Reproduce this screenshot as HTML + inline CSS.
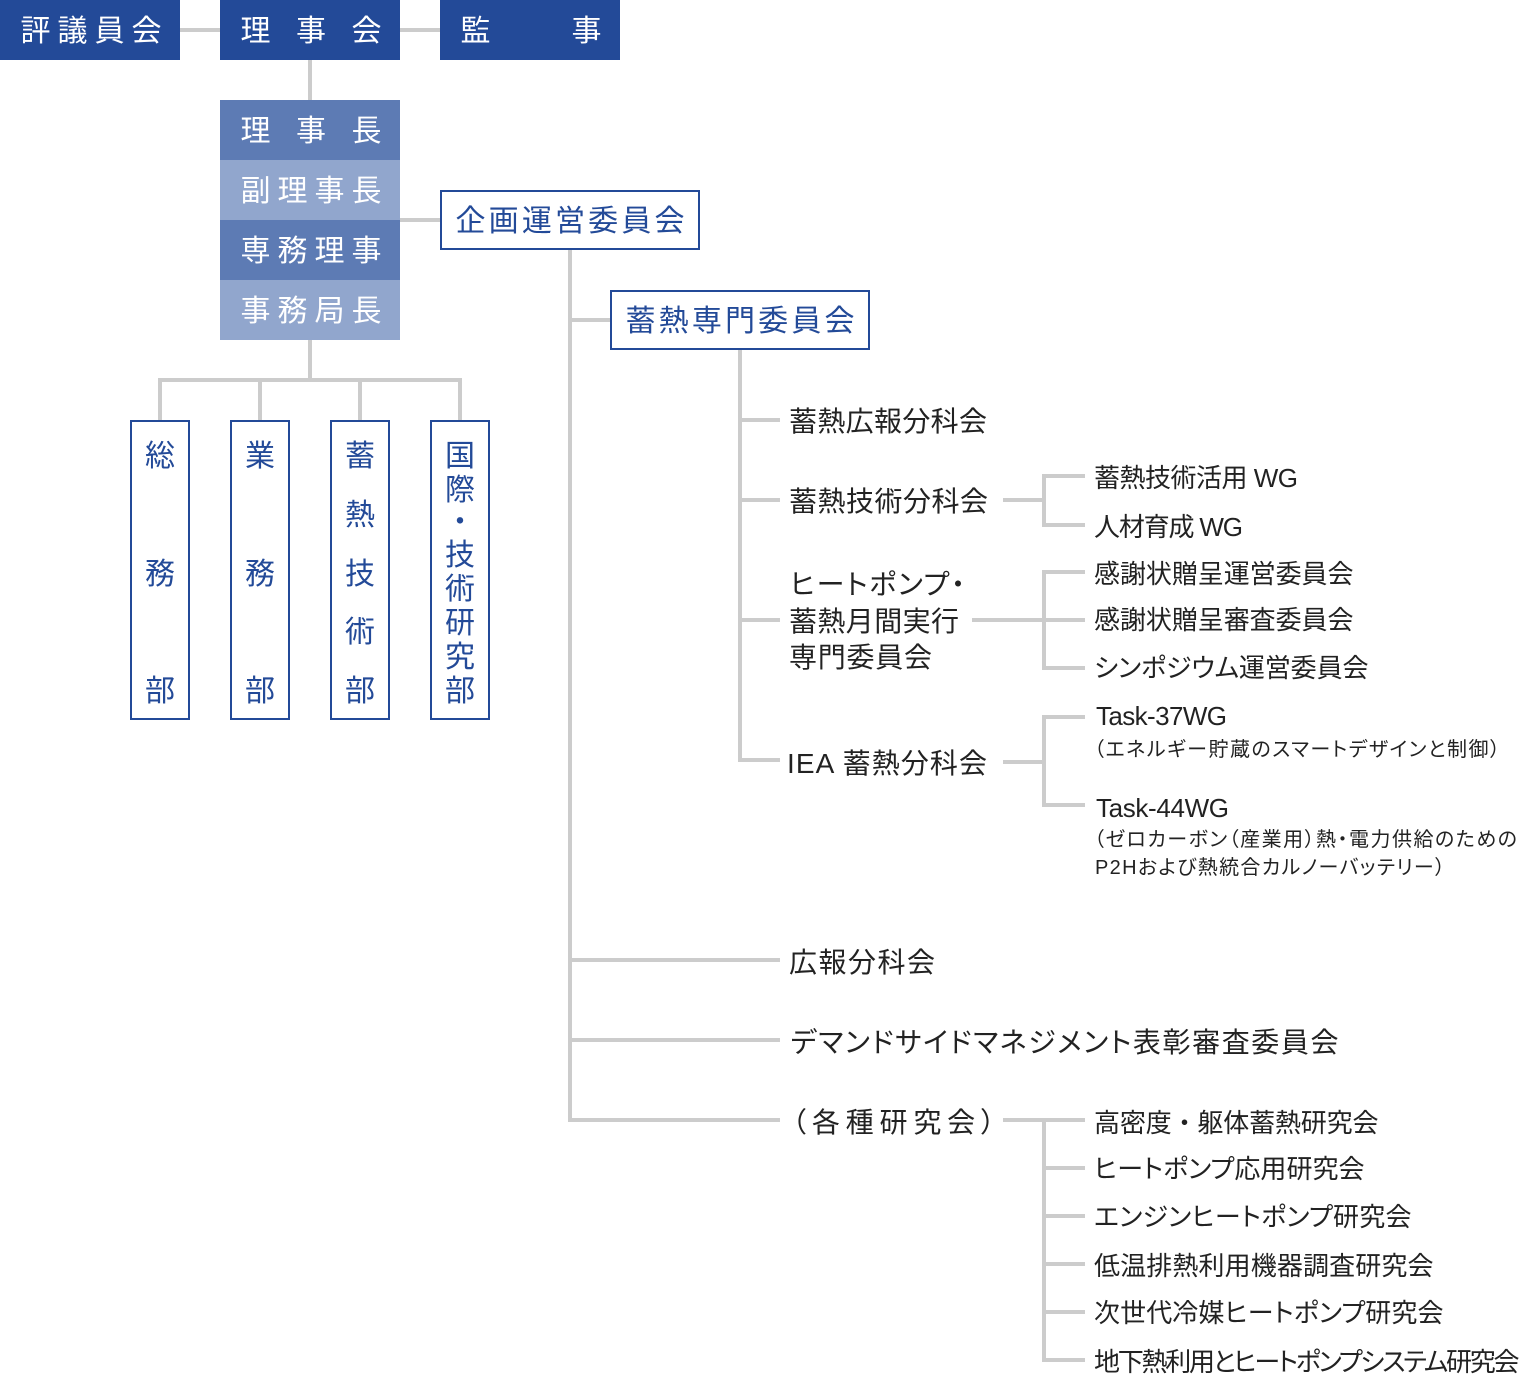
<!DOCTYPE html>
<html lang="ja">
<head>
<meta charset="utf-8">
<style>
  html,body{margin:0;padding:0;background:#fff;}
  svg{display:block;}
  text{font-family:"Liberation Sans","Noto Sans CJK JP",sans-serif;}
  .w{fill:#fff;font-size:30px;}
  .b{fill:#234a98;font-size:30px;}
  .m{fill:#222;font-size:28px;font-feature-settings:"palt";}
  .r{fill:#222;font-size:26px;font-feature-settings:"palt";}
  .s{fill:#222;font-size:20px;font-feature-settings:"palt";}
  .np{font-feature-settings:normal;}
</style>
</head>
<body>
<svg width="1528" height="1400" viewBox="0 0 1528 1400" xmlns="http://www.w3.org/2000/svg">
  <rect x="0" y="0" width="1528" height="1400" fill="#fff"/>

  <!-- connector lines -->
  <g fill="#cccccc">
    <rect x="180" y="28" width="40" height="4"/>
    <rect x="400" y="28" width="40" height="4"/>
    <rect x="308" y="60" width="4" height="40"/>
    <rect x="400" y="218" width="40" height="4"/>
    <rect x="308" y="340" width="4" height="40"/>
    <rect x="158" y="378" width="304" height="4"/>
    <rect x="158" y="378" width="4" height="42"/>
    <rect x="258" y="378" width="4" height="42"/>
    <rect x="358" y="378" width="4" height="42"/>
    <rect x="458" y="378" width="4" height="42"/>

    <rect x="568" y="250" width="4" height="872"/>
    <rect x="570" y="318" width="40" height="4"/>
    <rect x="570" y="958" width="210" height="4"/>
    <rect x="570" y="1038" width="210" height="4"/>
    <rect x="568" y="1118" width="212" height="4"/>

    <rect x="738" y="350" width="4" height="412"/>
    <rect x="740" y="418" width="40" height="4"/>
    <rect x="740" y="498" width="40" height="4"/>
    <rect x="740" y="618" width="40" height="4"/>
    <rect x="738" y="758" width="42" height="4"/>

    <!-- 蓄熱技術分科会 -->
    <rect x="1003" y="498" width="41" height="4"/>
    <rect x="1042" y="474" width="4" height="53"/>
    <rect x="1042" y="474" width="43" height="4"/>
    <rect x="1042" y="523" width="43" height="4"/>

    <!-- HP -->
    <rect x="972" y="618" width="72" height="4"/>
    <rect x="1042" y="570" width="4" height="100"/>
    <rect x="1042" y="570" width="43" height="4"/>
    <rect x="1042" y="618" width="43" height="4"/>
    <rect x="1042" y="666" width="43" height="4"/>

    <!-- IEA -->
    <rect x="1003" y="760" width="41" height="4"/>
    <rect x="1042" y="715" width="4" height="92"/>
    <rect x="1042" y="715" width="43" height="4"/>
    <rect x="1042" y="803" width="43" height="4"/>

    <!-- 各種研究会 -->
    <rect x="1003" y="1118" width="82" height="4"/>
    <rect x="1042" y="1118" width="4" height="244"/>
    <rect x="1042" y="1166" width="43" height="4"/>
    <rect x="1042" y="1214" width="43" height="4"/>
    <rect x="1042" y="1262" width="43" height="4"/>
    <rect x="1042" y="1310" width="43" height="4"/>
    <rect x="1042" y="1358" width="43" height="4"/>
  </g>

  <!-- top boxes -->
  <rect x="0" y="0" width="180" height="60" fill="#234a98"/>
  <rect x="220" y="0" width="180" height="60" fill="#234a98"/>
  <rect x="440" y="0" width="180" height="60" fill="#234a98"/>
  <text class="w" x="20.5 57.5 94.5 131.5" y="41">評議員会</text>
  <text class="w" x="240.5 296 351.5" y="41">理事会</text>
  <text class="w" x="460.5 571.5" y="41">監事</text>

  <!-- officer stack -->
  <rect x="220" y="100" width="180" height="60" fill="#5d7bb4"/>
  <rect x="220" y="160" width="180" height="60" fill="#91a6cd"/>
  <rect x="220" y="220" width="180" height="60" fill="#5d7bb4"/>
  <rect x="220" y="280" width="180" height="60" fill="#91a6cd"/>
  <text class="w" x="240.5 296 351.5" y="141">理事長</text>
  <text class="w" x="240.5 277.5 314.5 351.5" y="201">副理事長</text>
  <text class="w" x="240.5 277.5 314.5 351.5" y="261">専務理事</text>
  <text class="w" x="240.5 277.5 314.5 351.5" y="321">事務局長</text>

  <!-- committee boxes -->
  <rect x="441" y="191" width="258" height="58" fill="#fff" stroke="#234a98" stroke-width="2"/>
  <text class="b" x="455.5" y="231" textLength="229" lengthAdjust="spacing">企画運営委員会</text>
  <rect x="611" y="291" width="258" height="58" fill="#fff" stroke="#234a98" stroke-width="2"/>
  <text class="b" x="625.5" y="331" textLength="229" lengthAdjust="spacing">蓄熱専門委員会</text>

  <!-- department boxes -->
  <g fill="#fff" stroke="#234a98" stroke-width="2">
    <rect x="131" y="421" width="58" height="298"/>
    <rect x="231" y="421" width="58" height="298"/>
    <rect x="331" y="421" width="58" height="298"/>
    <rect x="431" y="421" width="58" height="298"/>
  </g>
  <g class="b" text-anchor="middle">
    <text class="b" x="160" y="466">総</text>
    <text class="b" x="160" y="584">務</text>
    <text class="b" x="160" y="701">部</text>

    <text class="b" x="260" y="466">業</text>
    <text class="b" x="260" y="584">務</text>
    <text class="b" x="260" y="701">部</text>

    <text class="b" x="360" y="466">蓄</text>
    <text class="b" x="360" y="525">熱</text>
    <text class="b" x="360" y="584">技</text>
    <text class="b" x="360" y="642">術</text>
    <text class="b" x="360" y="701">部</text>

    <text class="b" x="460" y="466">国</text>
    <text class="b" x="460" y="500">際</text>
    <text class="b" x="460" y="532">・</text>
    <text class="b" x="460" y="565">技</text>
    <text class="b" x="460" y="599">術</text>
    <text class="b" x="460" y="633">研</text>
    <text class="b" x="460" y="667">究</text>
    <text class="b" x="460" y="701">部</text>
  </g>

  <!-- main labels -->
  <text class="m" x="789" y="431" textLength="198" lengthAdjust="spacing">蓄熱広報分科会</text>
  <text class="m" x="789" y="511" textLength="199" lengthAdjust="spacing">蓄熱技術分科会</text>
  <text class="m" x="790" y="594" textLength="175" lengthAdjust="spacing">ヒートポンプ・</text>
  <text class="m" x="789" y="631" textLength="170" lengthAdjust="spacing">蓄熱月間実行</text>
  <text class="m" x="789" y="667" textLength="143" lengthAdjust="spacing">専門委員会</text>
  <text class="m" x="787" y="773" textLength="200" lengthAdjust="spacing">IEA 蓄熱分科会</text>
  <text class="m" x="789" y="972" textLength="146" lengthAdjust="spacing">広報分科会</text>
  <text class="m" x="790.5" y="1052" textLength="548" lengthAdjust="spacing">デマンドサイドマネジメント表彰審査委員会</text>
  <text class="m" x="792" y="1132" textLength="203" lengthAdjust="spacing">（各種研究会）</text>

  <!-- right labels -->
  <text class="r" x="1094" y="487" textLength="204" lengthAdjust="spacing">蓄熱技術活用 WG</text>
  <text class="r" x="1094" y="536" textLength="149" lengthAdjust="spacing">人材育成 WG</text>
  <text class="r" x="1094" y="583" textLength="259.5" lengthAdjust="spacing">感謝状贈呈運営委員会</text>
  <text class="r" x="1094" y="629" textLength="259.5" lengthAdjust="spacing">感謝状贈呈審査委員会</text>
  <text class="r" x="1094" y="677" textLength="274.5" lengthAdjust="spacing">シンポジウム運営委員会</text>

  <text class="r" x="1096" y="725" textLength="131" lengthAdjust="spacing">Task-37WG</text>
  <text class="s" x="1094" y="756" textLength="406" lengthAdjust="spacing">（エネルギー貯蔵のスマートデザインと制御）</text>
  <text class="r" x="1096" y="817" textLength="133" lengthAdjust="spacing">Task-44WG</text>
  <text class="s" x="1094" y="846" textLength="423" lengthAdjust="spacing">（ゼロカーボン（産業用）熱・電力供給のための</text>
  <text class="s" x="1095" y="874" textLength="350" lengthAdjust="spacing">P2Hおよび熱統合カルノーバッテリー）</text>

  <text class="r np" x="1094" y="1132" textLength="284.5" lengthAdjust="spacing">高密度・躯体蓄熱研究会</text>
  <text class="r" x="1094" y="1178" textLength="270.5" lengthAdjust="spacing">ヒートポンプ応用研究会</text>
  <text class="r" x="1094" y="1226" textLength="317.5" lengthAdjust="spacing">エンジンヒートポンプ研究会</text>
  <text class="r" x="1094" y="1275" textLength="339.5" lengthAdjust="spacing">低温排熱利用機器調査研究会</text>
  <text class="r" x="1094" y="1322" textLength="349.5" lengthAdjust="spacing">次世代冷媒ヒートポンプ研究会</text>
  <text class="r" x="1094" y="1371" textLength="425.5" lengthAdjust="spacing">地下熱利用とヒートポンプシステム研究会</text>
</svg>
</body>
</html>
